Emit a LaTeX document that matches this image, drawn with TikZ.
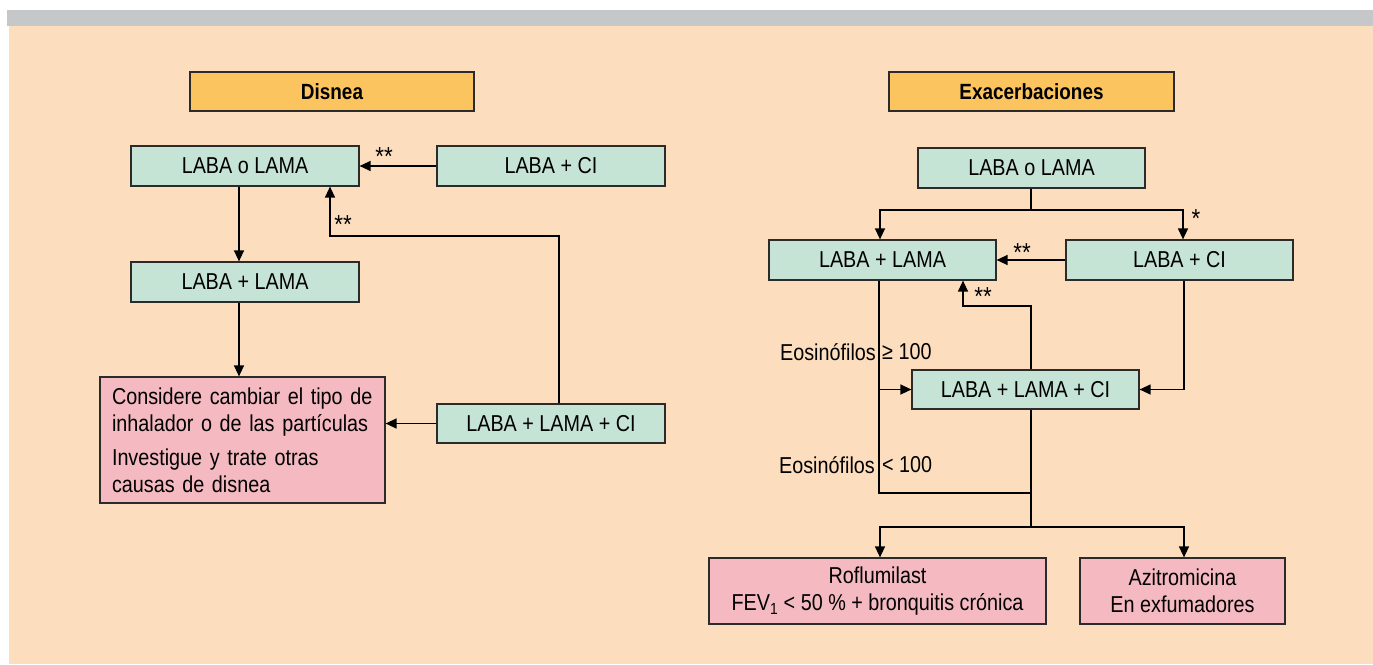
\documentclass[tikz,border=0pt]{standalone}
\usepackage{fontspec}
\setmainfont{Liberation Sans}[FakeStretch=0.86]
\usetikzlibrary{arrows.meta}
\definecolor{peach}{HTML}{FCDEBE}
\definecolor{graybar}{HTML}{C6C7C9}
\definecolor{titlefill}{HTML}{FCC45E}
\definecolor{greenfill}{HTML}{C6E4D5}
\definecolor{pinkfill}{HTML}{F4B9C1}
\definecolor{edge}{HTML}{2B2B2B}
\tikzset{
  box/.style={draw=edge, line width=1.2pt, inner sep=0pt, align=center,
    font=\fontsize{23}{27}\selectfont},
  titlebox/.style={box, fill=titlefill, minimum width=284, minimum height=39,
    font=\fontsize{22}{25}\selectfont\bfseries},
  gbox/.style={box, fill=greenfill, minimum width=228, minimum height=40},
  pbox/.style={box, fill=pinkfill},
  wire/.style={line width=1.3pt, draw=black},
  arr/.style={wire, -{Triangle[length=11pt,width=10pt]}},
  ast/.style={inner sep=0pt, font=\fontsize{26}{26}\selectfont},
  lbl/.style={inner sep=0pt, font=\fontsize{23}{26}\selectfont},
}
\begin{document}
\begin{tikzpicture}[x=1pt,y=-1pt]
\useasboundingbox (0,0) rectangle (1373,664);
\fill[white] (0,0) rectangle (1373,664);
\fill[peach] (9,26) rectangle (1373,664);
\fill[graybar] (7,10) rectangle (1373,26);

% ---- Disnea branch ----
\node[titlebox] (dis) at (332,91.5) {Disnea};
\node[gbox] (lo1) at (245,166) {LABA o LAMA};
\node[gbox] (ci1) at (551,166) {LABA + CI};
\node[gbox] (ll1) at (245,282) {LABA + LAMA};
\node[gbox, minimum height=39] (llc1) at (551,423.5) {LABA + LAMA + CI};
\node[pbox, minimum width=285, minimum height=126, text width=261, align=left,
  inner xsep=12pt] (pk) at (242.5,440)
  {Considere cambiar el tipo de\\ inhalador o de las partículas\\[7pt]
   Investigue y trate otras\\ causas de disnea};

\coordinate (c1) at (330,236);
\draw[arr] (ci1.west) -- (lo1.east);
\draw[arr] ([xshift=-6]lo1.south) -- ([xshift=-6]ll1.north);
\draw[arr] ([xshift=-6]ll1.south) -- ([xshift=-3.5]pk.north);
\draw[arr] (llc1.west) -- (pk.east |- llc1.west);
\draw[arr] ([xshift=8]llc1.north) |- (c1) -- (c1 |- lo1.south);
\node[ast] (s1) at (384,157) {**};
\node[ast] (s2) at (343,225) {**};

% ---- Exacerbaciones branch ----
\node[titlebox, minimum width=285] (exa) at (1031.5,91.5) {Exacerbaciones};
\node[gbox, minimum width=227] (lo2) at (1031.5,168) {LABA o LAMA};
\node[gbox, minimum width=227] (ll2) at (882.5,260) {LABA + LAMA};
\node[gbox, minimum width=227] (ci2) at (1179.5,260) {LABA + CI};
\node[gbox, minimum width=227, minimum height=39] (llc2) at (1025.5,389.5) {LABA + LAMA + CI};
\node[pbox, minimum width=337, minimum height=66] (rof) at (877.5,591)
  {Roflumilast\\ FEV\textsubscript{1} < 50 \% + bronquitis crónica};
\node[pbox, minimum width=205, minimum height=66] (azi) at (1182.5,591)
  {Azitromicina\\ En exfumadores};

\coordinate (sp1) at (1031,210);
\coordinate (c2) at (963,306);
\coordinate (c3) at (879,493);
\coordinate (j1) at (1031,493);
\coordinate (sp2) at (1031,527);

\draw[wire] (sp1 |- lo2.south) -- (sp1);
\draw[arr] (sp1) -| ([xshift=-2.5]ll2.north);
\draw[arr] (sp1) -| ([xshift=3.5]ci2.north);
\draw[arr] (ci2.west) -- (ll2.east);
\draw[arr] ([xshift=5.5]llc2.north) |- (c2) -- (c2 |- ll2.south);
\draw[wire] ([xshift=-3.5]ll2.south) -- (c3) -- (j1);
\draw[arr] (c3 |- llc2.west) -- (llc2.west);
\draw[arr] ([xshift=4.5]ci2.south) |- (llc2.east);
\draw[wire] ([xshift=5.5]llc2.south) -- (sp2);
\draw[arr] (sp2) -| ([xshift=2.5]rof.north);
\draw[arr] (sp2) -| ([xshift=1.5]azi.north);

\node[ast] (s3) at (1196,219) {*};
\node[ast] (s4) at (1022,253) {**};
\node[ast] (s5) at (983,297) {**};
\node[lbl, anchor=east] (e1a) at (876,352) {Eosinófilos};
\node[lbl, anchor=west] (e1b) at (882,352) {≥ 100};
\node[lbl, anchor=east] (e2a) at (875,465) {Eosinófilos};
\node[lbl, anchor=west] (e2b) at (882,465) {< 100};
\end{tikzpicture}
\end{document}
